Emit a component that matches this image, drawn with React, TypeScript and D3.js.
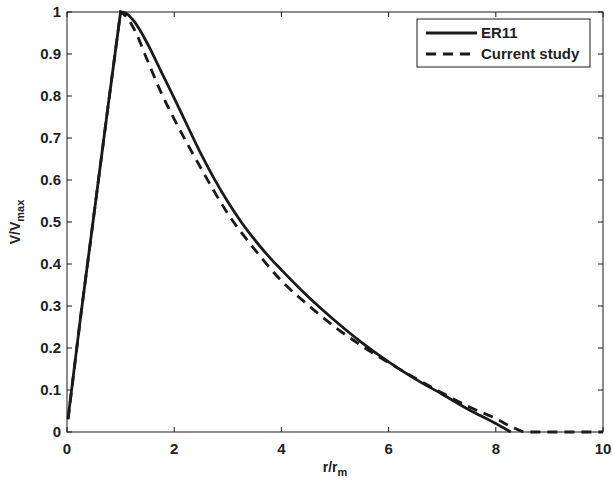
import React, { useEffect, useRef } from 'react';
import * as d3 from 'd3';

// r/rm positions and V/Vmax
const er11R = [0.02, 0.25, 0.5, 0.75, 1.0, 1.1, 1.25, 1.5, 1.75, 2.0, 2.25, 2.5, 2.75, 3.0, 3.25, 3.5, 3.75, 4.0, 4.5, 5.0, 5.5, 6.0, 6.5, 7.0, 7.5, 8.0, 8.28];
const er11V = [0.033, 0.27, 0.515, 0.76, 1.0, 0.997, 0.978, 0.925, 0.86, 0.795, 0.728, 0.662, 0.602, 0.548, 0.5, 0.458, 0.42, 0.386, 0.322, 0.265, 0.213, 0.167, 0.126, 0.09, 0.053, 0.02, 0.0];

const studyR = [0.02, 0.25, 0.5, 0.75, 1.0, 1.1, 1.25, 1.5, 1.75, 2.0, 2.25, 2.5, 2.75, 3.0, 3.5, 4.0, 4.5, 5.0, 5.5, 6.0, 6.5, 7.0, 7.5, 8.0, 8.3, 8.56, 9.0, 10.0];
const studyV = [0.03, 0.27, 0.515, 0.76, 1.0, 0.99, 0.96, 0.885, 0.81, 0.745, 0.685, 0.628, 0.572, 0.52, 0.435, 0.36, 0.302, 0.25, 0.205, 0.165, 0.128, 0.093, 0.06, 0.032, 0.012, 0.0, 0.0, 0.0];

const xTicks = [0, 2, 4, 6, 8, 10];
const yTicks = [0, 0.1, 0.2, 0.3, 0.4, 0.5, 0.6, 0.7, 0.8, 0.9, 1];
const legendLabels = ['ER11', 'Current study'];

const App = () => {
  const svgRef = useRef<SVGSVGElement>(null);

  useEffect(() => {
    const width = 613;
    const height = 484;
    const margin = { left: 67, right: 10, top: 12, bottom: 52 };
    const font = '"Liberation Sans", Arial, Helvetica, sans-serif';

    const svg = d3.select(svgRef.current)
      .attr('width', width)
      .attr('height', height);
    svg.selectAll('*').remove();

    const x = d3.scaleLinear().domain([0, 10]).range([margin.left, width - margin.right]);
    const y = d3.scaleLinear().domain([0, 1]).range([height - margin.bottom, margin.top]);

    svg.append('rect')
      .attr('width', width).attr('height', height).attr('fill', '#fff');

    // straight rise up to the peak, smooth decay after it
    const rise = d3.line<[number, number]>().x(d => x(d[0])).y(d => y(d[1]));
    const decay = d3.line<[number, number]>().x(d => x(d[0])).y(d => y(d[1])).curve(d3.curveMonotoneX);
    const profilePath = (rs: number[], vs: number[]) => {
      const pts = rs.map((r, i) => [r, vs[i]] as [number, number]);
      const peak = d3.maxIndex(pts, d => d[1]);
      const a = rise(pts.slice(0, peak + 1)) || '';
      const b = (decay(pts.slice(peak)) || '').replace(/^M/, 'L');
      return a + b;
    };

    // box axes, ticks inside on all four sides
    const tickLen = 5;
    const axisColor = '#1a1a1a';
    svg.append('rect')
      .attr('x', x(0)).attr('y', y(1))
      .attr('width', x(10) - x(0)).attr('height', y(0) - y(1))
      .attr('fill', 'none').attr('stroke', axisColor).attr('stroke-width', 1);

    const g = svg.append('g').attr('stroke', axisColor).attr('stroke-width', 1);
    xTicks.forEach(t => {
      g.append('line').attr('x1', x(t)).attr('x2', x(t)).attr('y1', y(0)).attr('y2', y(0) - tickLen);
      g.append('line').attr('x1', x(t)).attr('x2', x(t)).attr('y1', y(1)).attr('y2', y(1) + tickLen);
    });
    yTicks.forEach(t => {
      g.append('line').attr('x1', x(0)).attr('x2', x(0) + tickLen).attr('y1', y(t)).attr('y2', y(t));
      g.append('line').attr('x1', x(10)).attr('x2', x(10) - tickLen).attr('y1', y(t)).attr('y2', y(t));
    });

    svg.append('g').selectAll('text').data(xTicks).join('text')
      .attr('x', d => x(d))
      .attr('y', y(0) + 22)
      .attr('text-anchor', 'middle')
      .attr('font-family', font).attr('font-weight', 'bold').attr('font-size', 15)
      .attr('fill', '#222')
      .text(d => String(d));

    svg.append('g').selectAll('text').data(yTicks).join('text')
      .attr('x', x(0) - 6)
      .attr('y', d => y(d) + 5)
      .attr('text-anchor', 'end')
      .attr('font-family', font).attr('font-weight', 'bold').attr('font-size', 15)
      .attr('fill', '#222')
      .text(d => String(d));

    // curves
    svg.append('path')
      .attr('d', profilePath(er11R, er11V))
      .attr('fill', 'none').attr('stroke', '#1a1a1a').attr('stroke-width', 2.8)
      .attr('stroke-linejoin', 'round');

    svg.append('path')
      .attr('d', profilePath(studyR, studyV))
      .attr('fill', 'none').attr('stroke', '#1a1a1a').attr('stroke-width', 2.8)
      .attr('stroke-dasharray', '10,7');

    // legend
    const lg = svg.append('g');
    lg.append('rect')
      .attr('x', 417).attr('y', 19).attr('width', 173).attr('height', 48)
      .attr('fill', '#fff').attr('stroke', axisColor).attr('stroke-width', 1);
    legendLabels.forEach((lab, i) => {
      const yy = 33 + i * 21;
      lg.append('line')
        .attr('x1', 426).attr('x2', 477).attr('y1', yy).attr('y2', yy)
        .attr('stroke', '#1a1a1a').attr('stroke-width', 2.8)
        .attr('stroke-dasharray', i === 1 ? '10,7' : null);
      lg.append('text')
        .attr('x', 481).attr('y', yy + 5)
        .attr('font-family', font).attr('font-weight', 'bold').attr('font-size', 15)
        .attr('fill', '#222')
        .text(lab);
    });

    // axis labels
    const xl = svg.append('text')
      .attr('x', x(5)).attr('y', 472)
      .attr('text-anchor', 'middle')
      .attr('font-family', font).attr('font-weight', 'bold').attr('font-size', 14)
      .attr('fill', '#222');
    xl.append('tspan').text('r/r');
    xl.append('tspan').attr('font-size', 11).attr('dy', 4).text('m');

    const yl = svg.append('text')
      .attr('transform', `translate(20, ${y(0.5)}) rotate(-90)`)
      .attr('text-anchor', 'middle')
      .attr('font-family', font).attr('font-weight', 'bold').attr('font-size', 14)
      .attr('fill', '#222');
    yl.append('tspan').text('V/V');
    yl.append('tspan').attr('font-size', 11).attr('dy', 4).text('max');
  }, []);

  return (
    <svg ref={svgRef} style={{ position: 'absolute', left: 0, top: 0 }}></svg>
  );
};

export default App;
